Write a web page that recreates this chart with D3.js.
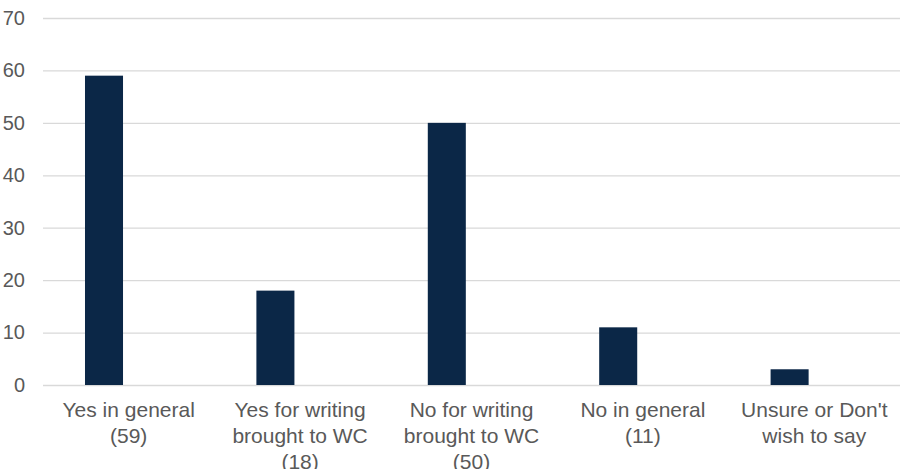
<!DOCTYPE html>
<html>
<head>
<meta charset="utf-8">
<script src="https://cdn.jsdelivr.net/npm/d3@7"></script>
<style>
  body { margin: 0; background: #fff; }
  text { font-family: "Liberation Sans", Arial, sans-serif; }
</style>
</head>
<body>
<div id="chart"></div>
<script>
const width = 902,
  height = 469;

// chart data
const categories = [
  ["Yes in general", "(59)"],
  ["Yes for writing", "brought to WC", "(18)"],
  ["No for writing", "brought to WC", "(50)"],
  ["No in general", "(11)"],
  ["Unsure or Don't", "wish to say"]
];
const values = [59, 18, 50, 11, 3];
const yTicks = [0, 10, 20, 30, 40, 50, 60, 70];
const subgroups = ["count", "empty"];

const plotLeft = 43,
  plotRight = 900,
  plotTop = 18,
  plotBottom = 385;

const svg = d3
  .select("#chart")
  .append("svg")
  .attr("width", width)
  .attr("height", height);

const xScale = d3
  .scaleBand()
  .domain(d3.range(categories.length))
  .range([plotLeft, plotRight])
  .paddingInner(0.49)
  .paddingOuter(0.245);

const subScale = d3
  .scaleBand()
  .domain(subgroups)
  .range([0, xScale.bandwidth()])
  .paddingInner(0.23);

const yScale = d3.scaleLinear().domain([0, 70]).range([plotBottom, plotTop]);

// grid + y labels
const yAxis = d3
  .axisLeft(yScale)
  .tickValues(yTicks)
  .tickSize(-(plotRight - plotLeft))
  .tickPadding(18);

const gy = svg
  .append("g")
  .attr("transform", `translate(${plotLeft},0)`)
  .call(yAxis);
gy.select(".domain").remove();
gy.selectAll(".tick line").attr("stroke", "#d9d9d9").attr("stroke-width", 1.3);
gy.selectAll(".tick text")
  .attr("fill", "#595959")
  .style("font-size", "20px")
  .style("font-family", '"Liberation Sans", Arial, sans-serif');

// bars
svg
  .append("g")
  .selectAll("rect")
  .data(values)
  .enter()
  .append("rect")
  .attr("x", (d, i) => xScale(i) + subScale("count"))
  .attr("y", (d) => yScale(d))
  .attr("width", subScale.bandwidth())
  .attr("height", (d) => yScale(0) - yScale(d))
  .attr("fill", "#0b2747");

// x labels
const labels = svg
  .append("g")
  .selectAll("text")
  .data(categories)
  .enter()
  .append("text")
  .attr("x", (d, i) => xScale(i) + xScale.bandwidth() / 2)
  .attr("y", 417)
  .attr("text-anchor", "middle")
  .attr("fill", "#595959")
  .style("font-size", "21px");

labels
  .selectAll("tspan")
  .data((d) => d)
  .enter()
  .append("tspan")
  .attr("x", function () {
    return d3.select(this.parentNode).attr("x");
  })
  .attr("dy", (d, i) => (i == 0 ? 0 : 26))
  .text((d) => d);
</script>
</body>
</html>
